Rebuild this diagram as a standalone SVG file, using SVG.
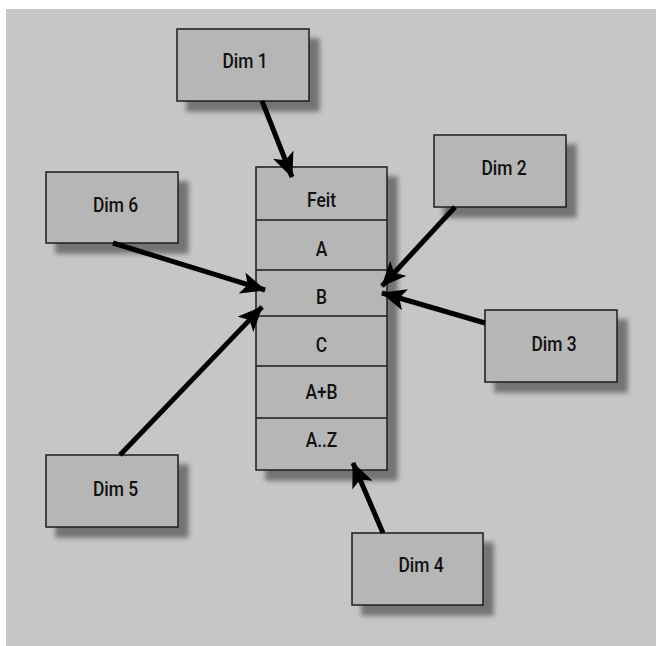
<svg xmlns="http://www.w3.org/2000/svg" width="656" height="646" viewBox="0 0 656 646">
  <style>
    .box { fill: #b6b6b6; stroke: #1e1e1e; stroke-width: 1.5; }
    .row { fill: none; stroke: #1e1e1e; stroke-width: 1.5; }
    .lbl { font-family: "Roboto", "Liberation Sans", sans-serif; font-size: 21px; font-weight: 500; fill: #111; text-anchor: middle; }
    .edge { stroke: #000; stroke-width: 5; fill: none; marker-end: url(#head); }
  </style>
  <defs>
    <filter id="shadow" x="-20%" y="-20%" width="150%" height="150%">
      <feGaussianBlur in="SourceAlpha" stdDeviation="2.5" result="b"/>
      <feOffset in="b" dx="10" dy="10" result="o"/>
      <feComponentTransfer in="o" result="s">
        <feFuncA type="linear" slope="0.42"/>
      </feComponentTransfer>
      <feMerge>
        <feMergeNode in="s"/>
        <feMergeNode in="SourceGraphic"/>
      </feMerge>
    </filter>
    <marker id="head" markerUnits="userSpaceOnUse" markerWidth="26" markerHeight="22" refX="24" refY="11" orient="auto">
      <path d="M0,0 L25,11 L0,22 L6,11 Z" fill="#000"/>
    </marker>
  </defs>

  <!-- panel -->
  <rect x="6" y="9" width="650" height="637" fill="#c6c6c6"/>

  <!-- fact table -->
  <g id="fact">
    <rect class="box" x="256" y="167" width="131" height="303" filter="url(#shadow)"/>
    <path class="row" d="M256,220 H387 M256,270 H387 M256,316 H387 M256,366 H387 M256,418 H387"/>
    <text class="lbl" transform="translate(321.5,207) scale(0.83,1)">Feit</text>
    <text class="lbl" transform="translate(321.5,256) scale(0.83,1)">A</text>
    <text class="lbl" transform="translate(321.5,304) scale(0.83,1)">B</text>
    <text class="lbl" transform="translate(321.5,352) scale(0.83,1)">C</text>
    <text class="lbl" transform="translate(321.5,399) scale(0.83,1)">A+B</text>
    <text class="lbl" transform="translate(321.5,447) scale(0.83,1)">A..Z</text>
  </g>

  <!-- dimensions -->
  <g id="dim1">
    <rect class="box" x="177" y="29" width="132" height="72" filter="url(#shadow)"/>
    <text class="lbl" transform="translate(245,68) scale(0.83,1)">Dim 1</text>
  </g>
  <g id="dim2">
    <rect class="box" x="434" y="135" width="132" height="72" filter="url(#shadow)"/>
    <text class="lbl" transform="translate(504,175) scale(0.83,1)">Dim 2</text>
  </g>
  <g id="dim3">
    <rect class="box" x="485" y="310" width="132" height="72" filter="url(#shadow)"/>
    <text class="lbl" transform="translate(554,351) scale(0.83,1)">Dim 3</text>
  </g>
  <g id="dim4">
    <rect class="box" x="352" y="533" width="131" height="72" filter="url(#shadow)"/>
    <text class="lbl" transform="translate(421,572) scale(0.83,1)">Dim 4</text>
  </g>
  <g id="dim5">
    <rect class="box" x="46" y="455" width="132" height="72" filter="url(#shadow)"/>
    <text class="lbl" transform="translate(115.5,496) scale(0.83,1)">Dim 5</text>
  </g>
  <g id="dim6">
    <rect class="box" x="46" y="172" width="132" height="71" filter="url(#shadow)"/>
    <text class="lbl" transform="translate(115.5,212) scale(0.83,1)">Dim 6</text>
  </g>

  <!-- connectors -->
  <g id="connectors">
    <line class="edge" x1="262" y1="101" x2="292" y2="177"/>
    <line class="edge" x1="455" y1="207" x2="382" y2="286"/>
    <line class="edge" x1="485" y1="323" x2="382" y2="293"/>
    <line class="edge" x1="383" y1="533" x2="353" y2="463"/>
    <line class="edge" x1="120" y1="455" x2="262" y2="307"/>
    <line class="edge" x1="113" y1="243" x2="265" y2="290"/>
  </g>
</svg>
